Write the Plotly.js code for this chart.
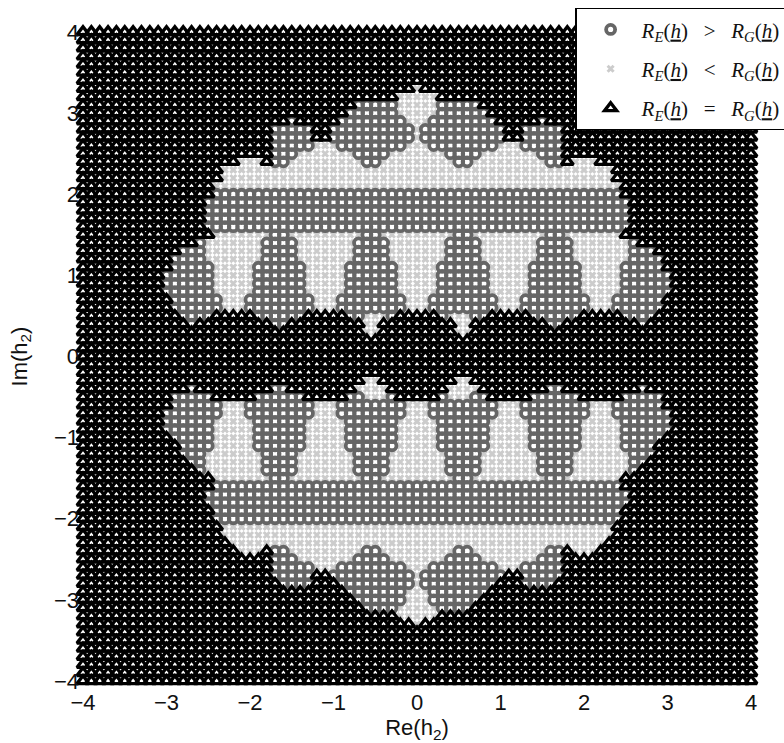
<!DOCTYPE html>
<html><head><meta charset="utf-8">
<script src="https://cdn.plot.ly/plotly-3.0.1.min.js"></script>
<style>html,body{margin:0;padding:0;background:#fff}#c{width:784px;height:743px}</style></head>
<body><div id="c"></div>
<script>
const gridValues = [-4,-3.9,-3.8,-3.7,-3.6,-3.5,-3.4,-3.3,-3.2,-3.1,-3,-2.9,-2.8,-2.7,-2.6,-2.5,-2.4,-2.3,-2.2,-2.1,-2,-1.9,-1.8,-1.7,-1.6,-1.5,-1.4,-1.3,-1.2,-1.1,-1,-0.9,-0.8,-0.7,-0.6,-0.5,-0.4,-0.3,-0.2,-0.1,0,0.1,0.2,0.3,0.4,0.5,0.6,0.7,0.8,0.9,1,1.1,1.2,1.3,1.4,1.5,1.6,1.7,1.8,1.9,2,2.1,2.2,2.3,2.4,2.5,2.6,2.7,2.8,2.9,3,3.1,3.2,3.3,3.4,3.5,3.6,3.7,3.8,3.9,4];
const tickValues = [-4,-3,-2,-1,0,1,2,3,4];
// One entry per row, from Im(h2)=4 down to -4. Each token: class + column range.
const regionRows = [
"T0-80","T0-80","T0-80","T0-80","T0-80","T0-80","T0-80",
"T0-39 L40 T41-80",
"T0-37 L38-42 T43-80",
"T0-32 E33-37 L38-42 E43-47 T48-80",
"T0-31 E32-37 L38-42 E43-48 T49-80",
"T0-24 E25 T26-30 E31-38 L39-41 E42-49 T50-54 E55 T56-80",
"T0-22 E23-27 T28-29 E30-39 L40 E41-50 T51-52 E53-57 T58-80",
"T0-22 E23-27 T28-29 E30-39 L40 E41-50 T51-52 E53-57 T58-80",
"T0-22 E23-27 L28-30 E31-38 L39-41 E42-49 L50-52 E53-57 T58-80",
"T0-22 E23-25 L26-32 E33-36 L37-43 E44-47 L48-54 E55-57 T58-80",
"T0-18 L19-21 T22 E23-24 L25-33 E34-35 L36-44 E45-46 L47-55 E56-57 T58 L59-61 T62-80",
"T0-16 L17-63 T64-80",
"T0-16 L17-63 T64-80",
"T0-15 L16-64 T65-80",
"T0-15 E16-64 T65-80",
"T0-14 E15-65 T66-80",
"T0-14 E15-65 T66-80",
"T0-14 E15-65 T66-80",
"T0-14 E15-65 T66-80",
"T0-15 L16-22 E23-24 L25-33 E34-35 L36-44 E45-46 L47-55 E56-57 L58-64 T65-80",
"T0-13 E14 L15-21 E22-25 L26-32 E33-36 L37-43 E44-47 L48-54 E55-58 L59-65 E66 T67-80",
"T0-11 E12-14 L15-21 E22-25 L26-32 E33-36 L37-43 E44-47 L48-54 E55-58 L59-65 E66-68 T69-80",
"T0-10 E11-14 L15-21 E22-25 L26-32 E33-36 L37-43 E44-47 L48-54 E55-58 L59-65 E66-69 T70-80",
"T0-10 E11-15 L16-20 E21-26 L27-31 E32-37 L38-42 E43-48 L49-53 E54-59 L60-64 E65-69 T70-80",
"T0-9 E10-15 L16-20 E21-26 L27-31 E32-37 L38-42 E43-48 L49-53 E54-59 L60-64 E65-70 T71-80",
"T0-9 E10-15 L16-20 E21-26 L27-31 E32-37 L38-42 E43-48 L49-53 E54-59 L60-64 E65-70 T71-80",
"T0-9 E10-15 L16-20 E21-26 L27-31 E32-37 L38-42 E43-48 L49-53 E54-59 L60-64 E65-70 T71-80",
"T0-10 E11-16 L17-19 E20-27 L28-30 E31-38 L39-41 E42-49 L50-52 E53-60 L61-63 E64-69 T70-80",
"T0-10 E11-16 L17-19 E20-27 L28-30 E31-38 L39-41 E42-49 L50-52 E53-60 L61-63 E64-69 T70-80",
"T0-11 E12-15 T16-20 E21-26 T27-31 E32-33 L34-36 E37 T38-42 E43 L44-46 E47-48 T49-53 E54-59 T60-64 E65-68 T69-80",
"T0-12 E13 T14-22 E23-24 T25-33 L34-35 T36-44 L45-46 T47-55 E56-57 T58-66 E67 T68-80",
"T0-33 L34-35 T36-44 L45-46 T47-80",
"T0-80","T0-80","T0-80","T0-80","T0-80",
"T0-33 L34-35 T36-44 L45-46 T47-80",
"T0-12 E13 T14-22 E23-24 T25-32 L33-36 T37-43 L44-47 T48-55 E56-57 T58-66 E67 T68-80",
"T0-10 E11-15 T16-20 E21-26 T27-31 E32-33 L34-36 E37 T38-42 E43 L44-46 E47-48 T49-53 E54-59 T60-64 E65-69 T70-80",
"T0-10 E11-16 L17-19 E20-27 L28-30 E31-38 L39-41 E42-49 L50-52 E53-60 L61-63 E64-69 T70-80",
"T0-9 E10-16 L17-19 E20-27 L28-30 E31-38 L39-41 E42-49 L50-52 E53-60 L61-63 E64-70 T71-80",
"T0-9 E10-15 L16-20 E21-26 L27-31 E32-37 L38-42 E43-48 L49-53 E54-59 L60-64 E65-70 T71-80",
"T0-9 E10-15 L16-20 E21-26 L27-31 E32-37 L38-42 E43-48 L49-53 E54-59 L60-64 E65-70 T71-80",
"T0-10 E11-15 L16-20 E21-26 L27-31 E32-37 L38-42 E43-48 L49-53 E54-59 L60-64 E65-69 T70-80",
"T0-11 E12-15 L16-20 E21-26 L27-31 E32-37 L38-42 E43-48 L49-53 E54-59 L60-64 E65-68 T69-80",
"T0-11 E12-14 L15-21 E22-25 L26-32 E33-36 L37-43 E44-47 L48-54 E55-58 L59-65 E66-68 T69-80",
"T0-12 E13-14 L15-21 E22-25 L26-32 E33-36 L37-43 E44-47 L48-54 E55-58 L59-65 E66-67 T68-80",
"T0-13 E14 L15-21 E22-25 L26-32 E33-36 L37-43 E44-47 L48-54 E55-58 L59-65 E66 T67-80",
"T0-15 L16-22 E23-24 L25-33 E34-35 L36-44 E45-46 L47-55 E56-57 L58-64 T65-80",
"T0-15 E16-64 T65-80",
"T0-14 E15-65 T66-80",
"T0-14 E15-65 T66-80",
"T0-15 E16-64 T65-80",
"T0-15 E16-64 T65-80",
"T0-16 L17-63 T64-80",
"T0-16 L17-63 T64-80",
"T0-17 L18-62 T63-80",
"T0-18 L19-21 T22 E23-24 L25-33 E34-35 L36-44 E45-46 L47-55 E56-57 T58 L59-61 T62-80",
"T0-22 E23-25 L26-32 E33-36 L37-43 E44-47 L48-54 E55-57 T58-80",
"T0-22 E23-27 L28-30 E31-38 L39-41 E42-49 L50-52 E53-57 T58-80",
"T0-22 E23-27 T28-29 E30-39 L40 E41-50 T51-52 E53-57 T58-80",
"T0-23 E24-27 T28-30 E31-39 L40 E41-49 T50-52 E53-56 T57-80",
"T0-31 E32-38 L39-41 E42-48 T49-80",
"T0-32 E33-38 L39-41 E42-47 T48-80",
"T0-33 E34-37 L38-42 E43-46 T47-80",
"T0-37 L38-42 T43-80",
"T0-39 L40 T41-80",
"T0-80","T0-80","T0-80","T0-80","T0-80","T0-80","T0-80"
];
const gapL = "&nbsp;&nbsp;&nbsp;";
const labelE = "<i>R</i><sub><i>E</i></sub>(<u><i>h</i></u>)"+gapL+"&gt;"+gapL+"<i>R</i><sub><i>G</i></sub>(<u><i>h</i></u>)";
const labelL = "<i>R</i><sub><i>E</i></sub>(<u><i>h</i></u>)"+gapL+"&lt;"+gapL+"<i>R</i><sub><i>G</i></sub>(<u><i>h</i></u>)";
const labelT = "<i>R</i><sub><i>E</i></sub>(<u><i>h</i></u>)"+gapL+"="+gapL+"<i>R</i><sub><i>G</i></sub>(<u><i>h</i></u>)";

const pts = {E:{x:[],y:[]},L:{x:[],y:[]},T:{x:[],y:[]}};
regionRows.forEach((row,j)=>{
  const yv = gridValues[80-j];
  row.split(' ').forEach(tok=>{
    const m = tok.match(/^([ELT])(\d+)(?:-(\d+))?$/);
    const a = +m[2], b = m[3]===undefined ? a : +m[3];
    for(let i=a;i<=b;i++){ pts[m[1]].x.push(gridValues[i]); pts[m[1]].y.push(yv); }
  });
});
const mk = (k,name,rank,marker)=>({type:'scatter',mode:'markers',x:pts[k].x,y:pts[k].y,name,legendrank:rank,
  legendgroup:k,cliponaxis:false,hoverinfo:'skip',marker});
const data = [
  mk('L',labelL,2,{symbol:'x-thin-open',size:6,color:'#cccccc',line:{color:'#cccccc',width:3}}),
  mk('E',labelE,1,{symbol:'circle-open',size:9,color:'#666666',line:{color:'#666666',width:3.8}}),
  mk('T',labelT,3,{symbol:'triangle-up-open',size:10.5,color:'#000000',line:{color:'#000000',width:3.3}})
];
const axisFont = {family:'"Liberation Sans", Arial, sans-serif',size:22,color:'#111111'};
const layout = {
  width:784,height:743,paper_bgcolor:'#fff',plot_bgcolor:'#fff',
  margin:{l:82.7,r:32.5,t:32,b:62,pad:0,autoexpand:false},
  xaxis:{range:[-4,4],tickvals:tickValues,ticks:'',showgrid:false,zeroline:false,showline:false,tickfont:axisFont,
    ticklabelstandoff:6,title:{text:'Re(h<sub>2</sub>)',font:axisFont,standoff:2}},
  yaxis:{range:[-4,4],tickvals:tickValues,ticks:'',showgrid:false,zeroline:false,showline:false,tickfont:axisFont,
    ticklabelstandoff:3,title:{text:'Im(h<sub>2</sub>)',font:axisFont,standoff:20}},
  showlegend:true,
  legend:{x:0.737,y:1.037,xanchor:'left',yanchor:'top',bgcolor:'#fff',bordercolor:'#000',borderwidth:1.3,
    font:{family:'"Liberation Serif", "DejaVu Serif", serif',size:21,color:'#111'},
    itemwidth:52,indentation:3,tracegroupgap:9,itemclick:false,itemdoubleclick:false}
};
Plotly.newPlot('c',data,layout,{displayModeBar:false,staticPlot:true});
</script></body></html>
